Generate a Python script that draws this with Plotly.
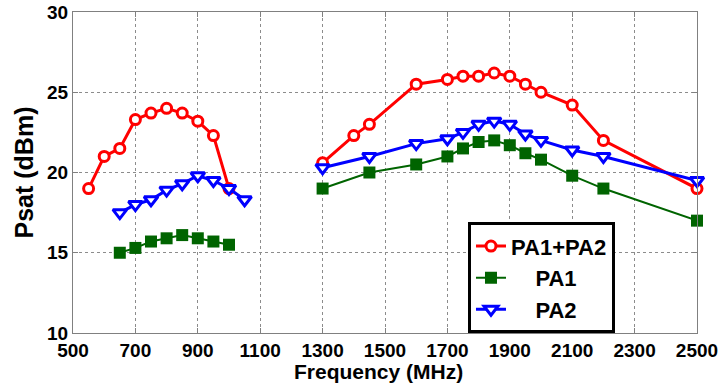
import plotly.graph_objects as go

# Saturated output power vs frequency, two bands
freq_low_pa12 = [550, 600, 650, 700, 750, 800, 850, 900, 950, 1000]
psat_low_pa12 = [19.0, 21.0, 21.5, 23.3, 23.7, 24.0, 23.7, 23.2, 22.3, 19.0]
freq_low_pa1 = [650, 700, 750, 800, 850, 900, 950, 1000]
psat_low_pa1 = [15.0, 15.3, 15.7, 15.9, 16.1, 15.9, 15.7, 15.5]
freq_low_pa2 = [650, 700, 750, 800, 850, 900, 950, 1000, 1050]
psat_low_pa2 = [17.5, 18.0, 18.3, 18.9, 19.3, 19.8, 19.5, 19.0, 18.3]

freq_high = [1300, 1400, 1450, 1600, 1700, 1750, 1800, 1850, 1900, 1950, 2000, 2100, 2200, 2500]
psat_high_pa12 = [20.6, 22.3, 23.0, 25.5, 25.8, 26.0, 26.0, 26.2, 26.0, 25.5, 25.0, 24.2, 22.0, 19.0]
freq_high_pa = [1300, 1450, 1600, 1700, 1750, 1800, 1850, 1900, 1950, 2000, 2100, 2200, 2500]
psat_high_pa1 = [19.0, 20.0, 20.5, 21.0, 21.5, 21.9, 22.0, 21.7, 21.2, 20.8, 19.8, 19.0, 17.0]
psat_high_pa2 = [20.3, 21.0, 21.8, 22.1, 22.5, 23.0, 23.2, 23.0, 22.4, 22.0, 21.4, 21.0, 19.5]

x_ticks = [500, 700, 900, 1100, 1300, 1500, 1700, 1900, 2100, 2300, 2500]
y_ticks = [10, 15, 20, 25, 30]

NB = "\u00a0"
series = [
    ("PA1+PA2", freq_low_pa12, psat_low_pa12, freq_high, psat_high_pa12,
     dict(color="#FF0000", width=3),
     dict(symbol="circle", size=10, color="white", line=dict(color="#FF0000", width=3))),
    (NB * 4 + "PA1", freq_low_pa1, psat_low_pa1, freq_high_pa, psat_high_pa1,
     dict(color="#006400", width=2),
     dict(symbol="square", size=12, color="#006400", line=dict(color="#006400", width=0))),
    (NB * 4 + "PA2", freq_low_pa2, psat_low_pa2, freq_high_pa, psat_high_pa2,
     dict(color="#0000FF", width=3),
     dict(symbol="triangle-down", size=12, color="white", line=dict(color="#0000FF", width=3))),
]

fig = go.Figure()
for name, xl, yl, xh, yh, line, marker in series:
    fig.add_trace(go.Scatter(
        x=xl + [None] + xh, y=yl + [None] + yh,
        mode="lines+markers", name=name, line=line, marker=marker,
        connectgaps=False, cliponaxis=False,
    ))

axis_common = dict(
    showline=True, linecolor="#808080", linewidth=1, mirror="ticks",
    ticks="inside", ticklen=5, tickcolor="#808080",
    showgrid=True, gridcolor="#8c8c8c", gridwidth=1, griddash="dot",
    zeroline=False, automargin=False,
    tickfont=dict(family="Liberation Sans", size=19, color="black", weight="bold"),
)

fig.update_xaxes(
    range=[500, 2500], tickvals=x_ticks, ticktext=[str(v) for v in x_ticks],
    **axis_common,
)
fig.update_yaxes(
    range=[10, 30], tickvals=y_ticks, ticktext=[str(v) for v in y_ticks],
    title=dict(text="Psat (dBm)", standoff=6,
               font=dict(family="Liberation Sans", size=25, color="black", weight="bold")),
    **axis_common,
)

# x-axis title sits tight under the tick labels
fig.add_annotation(
    text="Frequency (MHz)", xref="paper", yref="paper",
    x=0.49, y=-0.12, xanchor="center", yanchor="middle", showarrow=False,
    font=dict(family="Liberation Sans", size=21, color="black", weight="bold"),
)

fig.update_layout(
    width=722, height=385,
    margin=dict(l=73, r=25, t=12, b=52),
    paper_bgcolor="white", plot_bgcolor="white",
    showlegend=True,
    legend=dict(
        x=0.633, y=0.345, xanchor="left", yanchor="top",
        bgcolor="white", bordercolor="black", borderwidth=3,
        font=dict(family="Liberation Sans", size=22, color="black", weight="bold"),
        itemwidth=30, tracegroupgap=0,
    ),
)

fig.write_html("out.html")
